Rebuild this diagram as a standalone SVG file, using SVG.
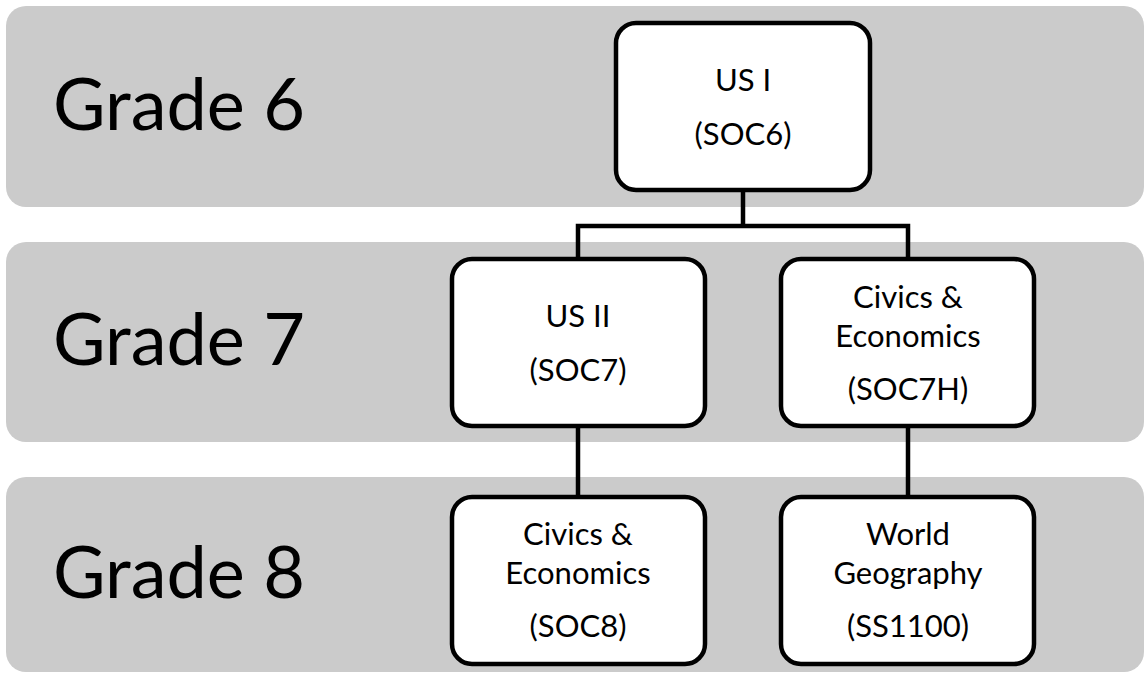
<svg xmlns="http://www.w3.org/2000/svg" width="1147" height="677" viewBox="0 0 1147 677">
<style>
.band{fill:#cbcbcb;}
.grade{font-family:Lato,"Open Sans","Liberation Sans",sans-serif;font-size:72px;fill:#000;}
.node rect{fill:#fff;stroke:#000;stroke-width:4.5;}
.lbl{font-family:Lato,"Open Sans","Liberation Sans",sans-serif;font-size:31px;fill:#000;text-anchor:middle;}
.conn{fill:none;stroke:#000;stroke-width:4.5;stroke-linejoin:miter;}
</style>
<rect width="1147" height="677" fill="#fff"/>
<g id="bands">
<rect class="band" x="6" y="6" width="1138" height="201" rx="20"/>
<rect class="band" x="6" y="242" width="1138" height="200" rx="20"/>
<rect class="band" x="6" y="477" width="1138" height="195" rx="20"/>
<text class="grade" x="53" y="130">Grade 6</text>
<text class="grade" x="53" y="365">Grade 7</text>
<text class="grade" x="53" y="598">Grade 8</text>
</g>
<g id="connectors">
<path class="conn" d="M743 190 V226 M578 259 V226 H908 V259"/>
<path class="conn" d="M578 426 V497"/>
<path class="conn" d="M908 426 V497"/>
</g>
<g id="us1" class="node">
<rect x="616" y="23" width="254" height="167" rx="20"/>
<text class="lbl" x="743" y="91">US I</text>
<text class="lbl" x="743" y="145">(SOC6)</text>
</g>
<g id="us2" class="node">
<rect x="452" y="259" width="253" height="167" rx="20"/>
<text class="lbl" x="578" y="327">US II</text>
<text class="lbl" x="578" y="381">(SOC7)</text>
</g>
<g id="civ7h" class="node">
<rect x="781" y="259" width="253" height="167" rx="20"/>
<text class="lbl" x="908" y="308">Civics &amp;</text>
<text class="lbl" x="908" y="347">Economics</text>
<text class="lbl" x="908" y="400">(SOC7H)</text>
</g>
<g id="civ8" class="node">
<rect x="452" y="497" width="253" height="167" rx="20"/>
<text class="lbl" x="578" y="545">Civics &amp;</text>
<text class="lbl" x="578" y="584">Economics</text>
<text class="lbl" x="578" y="637">(SOC8)</text>
</g>
<g id="geo" class="node">
<rect x="781" y="497" width="253" height="167" rx="20"/>
<text class="lbl" x="908" y="545">World</text>
<text class="lbl" x="908" y="584">Geography</text>
<text class="lbl" x="908" y="637">(SS1100)</text>
</g>
</svg>
